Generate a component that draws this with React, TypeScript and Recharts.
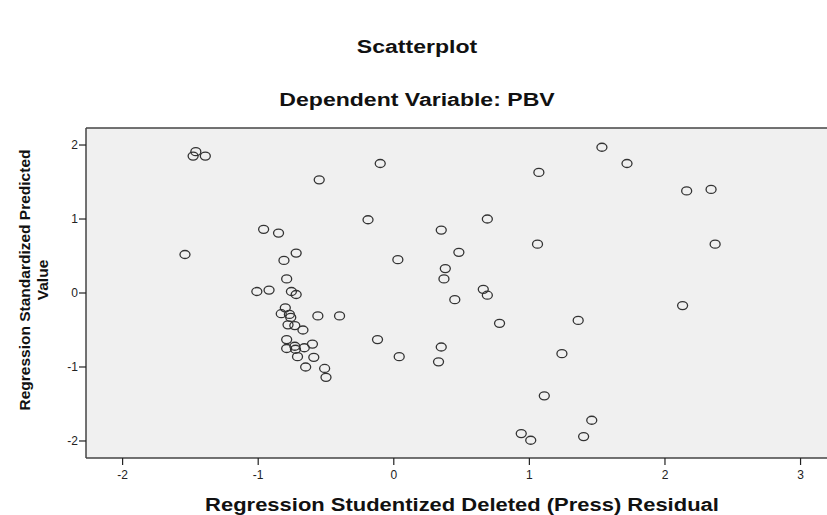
import React from "react";
import {
  ScatterChart,
  Scatter,
  XAxis,
  YAxis,
  CartesianGrid,
  ReferenceLine,
} from "recharts";

const residuals = [
  -1.46, -1.48, -1.39, -0.55, -0.96, -0.85, -1.54, -0.72, -0.81, -0.79,
  -1.01, -0.92, -0.755, -0.72, -0.8, -0.83, -0.77, -0.76, -0.78, -0.73,
  -0.67, -0.56, -0.4, -0.79, -0.73, -0.79, -0.725, -0.66, -0.6, -0.71,
  -0.59, -0.65, -0.51, -0.5, -0.1, 1.07, -0.19, 0.69, 0.35, 1.06,
  0.03, 0.48, 0.38, 0.37, 0.66, 0.69, 0.45, 0.78, -0.12, 0.04,
  0.35, 0.33, 1.24, 1.11, 0.94, 1.01, 1.535, 1.72, 2.16, 2.34,
  2.37, 2.13, 1.36, 1.46, 1.4,
];

const predicted = [
  1.91, 1.85, 1.85, 1.53, 0.86, 0.81, 0.52, 0.54, 0.44, 0.19,
  0.02, 0.04, 0.02, -0.02, -0.2, -0.28, -0.29, -0.33, -0.43, -0.44,
  -0.5, -0.31, -0.31, -0.63, -0.72, -0.75, -0.76, -0.74, -0.69, -0.86,
  -0.87, -1.0, -1.02, -1.14, 1.75, 1.63, 0.99, 1.0, 0.85, 0.66,
  0.45, 0.55, 0.33, 0.19, 0.05, -0.03, -0.09, -0.41, -0.63, -0.86,
  -0.73, -0.93, -0.82, -1.39, -1.9, -1.99, 1.97, 1.75, 1.38, 1.4,
  0.66, -0.17, -0.37, -1.72, -1.94,
];

const xTicks = [-2, -1, 0, 1, 2, 3];
const yTicks = [-2, -1, 0, 1, 2];

const xDomain = [-2.27, 3.195];
const yDomain = [-2.23, 2.23];

const points = residuals.map((x, i) => ({ x, y: predicted[i] }));

const font = '"Liberation Sans", Arial, sans-serif';

function Ring(props: any) {
  const { cx, cy } = props;
  return (
    <ellipse cx={cx} cy={cy} rx={5} ry={4} fill="none" stroke="#333" strokeWidth={1.3} />
  );
}

const titleStyle: React.CSSProperties = {
  position: "absolute",
  left: 0,
  width: 834,
  textAlign: "center",
  fontWeight: "bold",
  fontSize: 18,
  lineHeight: "20px",
  transform: "scaleX(1.28)",
  color: "#111",
};

export default function App() {
  return (
    <div
      style={{
        position: "absolute",
        left: 0,
        top: 0,
        width: 827,
        height: 515,
        background: "#fff",
        fontFamily: font,
      }}
    >
      <div style={{ ...titleStyle, top: 37 }}>Scatterplot</div>
      <div style={{ ...titleStyle, top: 90 }}>Dependent Variable: PBV</div>
      <div
        style={{
          position: "absolute",
          left: 34 - 150,
          top: 280 - 18,
          width: 300,
          height: 36,
          transform: "rotate(-90deg)",
          textAlign: "center",
          fontWeight: "bold",
          fontSize: 15.5,
          lineHeight: "18px",
          color: "#111",
        }}
      >
        Regression Standardized Predicted
        <br />
        Value
      </div>
      <div
        style={{
          ...titleStyle,
          top: 495,
          width: 924,
          transform: "scaleX(1.22)",
        }}
      >
        Regression Studentized Deleted (Press) Residual
      </div>

      <ScatterChart
        width={827}
        height={515}
        margin={{ top: 128, right: 0, bottom: 0, left: 0 }}
        style={{ position: "absolute", left: 0, top: 0 }}
      >
        <CartesianGrid fill="#f0f0f0" horizontal={false} vertical={false} />
        <XAxis
          type="number"
          dataKey="x"
          domain={xDomain}
          ticks={xTicks}
          allowDataOverflow
          height={57}
          tickSize={7}
          tickMargin={5}
          axisLine={{ stroke: "#444", strokeWidth: 1.5 }}
          tickLine={{ stroke: "#222", strokeWidth: 1.2 }}
          tick={{ fontSize: 12, fill: "#222", fontFamily: font }}
        />
        <YAxis
          type="number"
          dataKey="y"
          domain={yDomain}
          ticks={yTicks}
          allowDataOverflow
          width={86}
          tickSize={7}
          tickMargin={1}
          axisLine={{ stroke: "#444", strokeWidth: 1.5 }}
          tickLine={{ stroke: "#222", strokeWidth: 1.2 }}
          tick={{ fontSize: 12, fill: "#222", fontFamily: font }}
        />
        <ReferenceLine y={yDomain[1]} stroke="#444" strokeWidth={1.5} />
        <Scatter data={points} shape={Ring} isAnimationActive={false} />
      </ScatterChart>
    </div>
  );
}
